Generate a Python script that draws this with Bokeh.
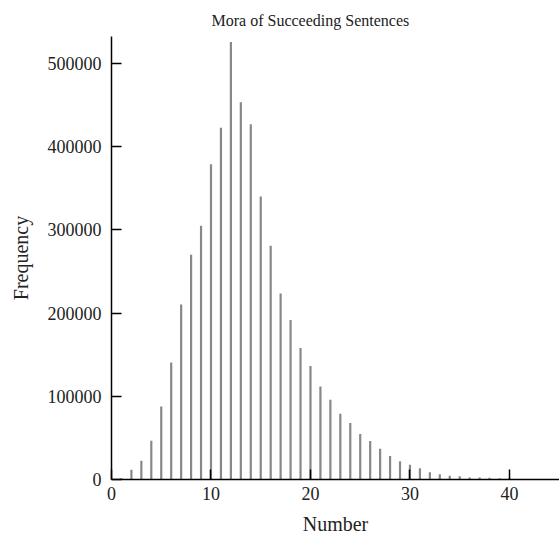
from bokeh.plotting import figure
from bokeh.models import ColumnDataSource, FixedTicker, Range1d
from bokeh.embed import file_html
from bokeh.resources import INLINE

# Data
numbers = [1, 2, 3, 4, 5, 6, 7, 8, 9, 10,
           11, 12, 13, 14, 15, 16, 17, 18, 19, 20,
           21, 22, 23, 24, 25, 26, 27, 28, 29, 30,
           31, 32, 33, 34, 35, 36, 37, 38, 39, 40]
frequency = [1500, 11600, 22400, 46700, 87800, 140500, 210400, 270000, 305000, 379000,
             422700, 525700, 453500, 427000, 340000, 281000, 223600, 191600, 158000, 136300,
             111700, 96000, 79000, 67900, 54700, 46300, 37000, 28300, 21900, 17600,
             13600, 8700, 6400, 4400, 3800, 2500, 2500, 2000, 1500, 1500]
x_ticks = [0, 10, 20, 30, 40]
y_ticks = [0, 100000, 200000, 300000, 400000, 500000]

FONT = "Liberation Serif"

source = ColumnDataSource(data=dict(x=numbers, top=frequency))

p = figure(
    frame_width=448, frame_height=443,
    min_border_left=111, min_border_right=0, min_border_top=36, min_border_bottom=58,
    x_range=Range1d(0, 45.03), y_range=Range1d(0, 532450),
    output_backend="svg", toolbar_location=None, tools="",
    title="Mora of Succeeding Sentences",
)

p.vbar(x="x", top="top", width=0.22, bottom=0, source=source,
       fill_color="#888888", line_color=None)

p.title.text_font = FONT
p.title.text_font_size = "16px"
p.title.text_font_style = "normal"
p.title.text_color = "#222222"
p.title.align = "left"
p.title.offset = 100
p.title.standoff = 16

p.outline_line_color = None
p.xgrid.visible = False
p.ygrid.visible = False
p.background_fill_color = "white"
p.border_fill_color = "white"

for ax in (p.xaxis[0], p.yaxis[0]):
    ax.axis_line_color = "black"
    ax.axis_line_width = 1.5
    ax.major_tick_line_color = "black"
    ax.major_tick_line_width = 1.5
    ax.major_tick_in = 10
    ax.major_tick_out = 0
    ax.minor_tick_line_color = None
    ax.major_label_text_font = FONT
    ax.major_label_text_font_size = "18px"
    ax.major_label_text_color = "#222222"
    ax.axis_label_text_font = FONT
    ax.axis_label_text_font_size = "20px"
    ax.axis_label_text_font_style = "normal"
    ax.axis_label_text_color = "#222222"

p.xaxis.ticker = FixedTicker(ticks=x_ticks)
p.yaxis.ticker = FixedTicker(ticks=y_ticks)
p.yaxis.formatter.use_scientific = False
p.xaxis.axis_label = "Number"
p.yaxis.axis_label = "Frequency"
p.xaxis.major_label_standoff = 7
p.yaxis.major_label_standoff = 10
p.xaxis.axis_label_standoff = 10
p.yaxis.axis_label_standoff = 13

open("out.html", "w").write(file_html(p, INLINE))
